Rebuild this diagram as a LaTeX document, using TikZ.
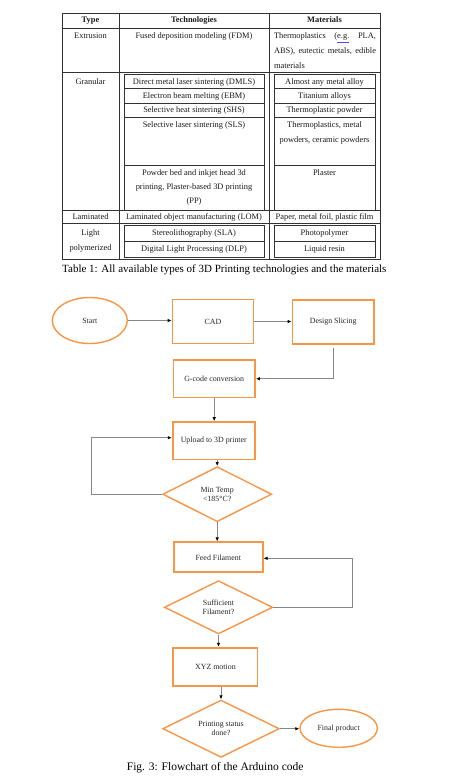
\documentclass[tikz,border=0pt]{standalone}
\usepackage{fontspec}
\setmainfont{Liberation Serif}
\usetikzlibrary{shapes.geometric,arrows.meta,calc}
\definecolor{boxorange}{HTML}{F79646}
\definecolor{conngray}{HTML}{868686}
\begin{document}
\begin{tikzpicture}[x=1pt,y=-1pt,
  tline/.style={draw=black!80,line width=0.65pt},
  ttxt/.style={font=\fontsize{8.4}{15}\selectfont,inner sep=0pt,text=black!90,anchor=base,yshift=-2.5pt},
  thead/.style={ttxt,font=\fontsize{8.4}{15}\selectfont\bfseries},
  captxt/.style={font=\fontsize{11}{13}\selectfont,inner sep=0pt,anchor=base west},
  fbox/.style={draw=boxorange,line width=1.7pt,rectangle,inner sep=0pt,font=\fontsize{7.9}{9}\selectfont,align=center,text=black!85},
  fdia/.style={draw=boxorange,line width=1.4pt,diamond,aspect=2,inner sep=0pt,font=\fontsize{7.9}{9}\selectfont,align=center,text=black!85},
  fell/.style={draw=boxorange,line width=1.4pt,ellipse,inner sep=0pt,font=\fontsize{7.9}{9}\selectfont,text=black!85},
  conn/.style={draw=conngray,line width=1pt,-{Latex[length=4pt,width=3.5pt,color=black]}},
]
\useasboundingbox (0,0) rectangle (456,779);
\fill[white] (0,0) rectangle (456,779);
% ---------- table grid ----------
\foreach \y in {13,28,72,210,223,259.5} \draw[tline] (62,\y) -- (380,\y);
\foreach \x in {62,119,269,380} \draw[tline] (\x,13) -- (\x,259.5);
\draw[tline] (124,74.5) rectangle (264,210);
\draw[tline] (274,74.5) rectangle (375,210);
\foreach \y in {88.5,103,117.5,165} {\draw[tline] (124,\y) -- (264,\y); \draw[tline] (274,\y) -- (375,\y);}
\draw[tline] (124,225) rectangle (264,257.5);
\draw[tline] (274,225) rectangle (375,257.5);
\draw[tline] (124,241) -- (264,241);
\draw[tline] (274,241) -- (375,241);
% ---------- table text ----------
\node[thead] (hType) at (90.5,20.5) {Type};
\node[thead] (hTech) at (194,20.5) {Technologies};
\node[thead] (hMat) at (324.5,20.5) {Materials};
\node[ttxt] (ext) at (90.5,36) {Extrusion};
\node[ttxt] (fdm) at (194,36) {Fused deposition modeling (FDM)};
\node[ttxt] (mfdm1) at (325,36) {\makebox[102pt][s]{Thermoplastics (\textcolor{blue!70}{\underline{\textcolor{black!90}{e.g.}}} PLA,}};
\node[ttxt] (mfdm2) at (325,51) {\makebox[102pt][s]{ABS), eutectic metals, edible}};
\node[ttxt] (mfdm3) at (325,66) {\makebox[102pt][l]{materials}};
\node[ttxt] (gran) at (90.5,81.5) {Granular};
\node[ttxt] (dmls) at (194,81.5) {Direct metal laser sintering (DMLS)};
\node[ttxt] (mdmls) at (324.5,81.5) {Almost any metal alloy};
\node[ttxt] (ebm) at (194,95.8) {Electron beam melting (EBM)};
\node[ttxt] (mebm) at (324.5,95.8) {Titanium alloys};
\node[ttxt] (shs) at (194,110.3) {Selective heat sintering (SHS)};
\node[ttxt] (mshs) at (324.5,110.3) {Thermoplastic powder};
\node[ttxt] (sls) at (194,124.5) {Selective laser sintering (SLS)};
\node[ttxt] (msls1) at (324.5,124.5) {Thermoplastics, metal};
\node[ttxt] (msls2) at (324.5,139.5) {powders, ceramic powders};
\node[ttxt] (pp1) at (194,172.5) {Powder bed and inkjet head 3d};
\node[ttxt] (pp2) at (194,186.5) {printing, Plaster-based 3D printing};
\node[ttxt] (pp3) at (194,200.5) {(PP)};
\node[ttxt] (mpp) at (324.5,172.5) {Plaster};
\node[ttxt] (lam) at (90.5,216.5) {Laminated};
\node[ttxt] (lom) at (194,216.5) {Laminated object manufacturing (LOM)};
\node[ttxt] (mlom) at (324.5,216.5) {Paper, metal foil, plastic film};
\node[ttxt] (light1) at (90.5,233) {Light};
\node[ttxt] (light2) at (90.5,248) {polymerized};
\node[ttxt] (sla) at (194,233) {Stereolithography (SLA)};
\node[ttxt] (dlp) at (194,249.3) {Digital Light Processing (DLP)};
\node[ttxt] (msla) at (324.5,233) {Photopolymer};
\node[ttxt] (mdlp) at (324.5,249.3) {Liquid resin};
\node[captxt] (tcap) at (62,272) {Table 1: All available types of 3D Printing technologies and the materials};
% ---------- flowchart ----------
\node[fell, minimum width=75pt, minimum height=46pt] (start) at (89.8,320.5) {Start};
\node[fbox, minimum width=81pt, minimum height=44pt] (cad) at (213,321.5) {CAD};
\node[fbox, minimum width=81.5pt, minimum height=44pt] (slice) at (333.2,322) {Design Slicing};
\node[fbox, minimum width=81.7pt, minimum height=37.3pt] (gcode) at (214.2,378.7) {G-code conversion};
\node[fbox, minimum width=82.3pt, minimum height=37.3pt] (upload) at (213.8,440.7) {Upload to 3D printer};
\node[fdia, minimum width=109pt, minimum height=55pt] (temp) at (217.2,494.2) {Min Temp\\<185°C?};
\node[fbox, minimum width=88.7pt, minimum height=30pt] (feed) at (218.3,557.3) {Feed Filament};
\node[fdia, minimum width=108.4pt, minimum height=53.3pt] (suff) at (218.5,607.3) {Sufficient\\Filament?};
\node[fbox, minimum width=84.2pt, minimum height=38pt] (xyz) at (215.4,666.7) {XYZ motion};
\node[fdia, minimum width=116.6pt, minimum height=57.3pt] (print) at (221,728.7) {Printing status\\done?};
\node[fell, minimum width=77.4pt, minimum height=38pt] (final) at (338.7,728.3) {Final product};
\draw[conn] (start.east) -- (start.east -| cad.west);
\draw[conn] (cad.east) -- (cad.east -| slice.west);
\draw[conn] ([yshift=-2.7pt]slice.south) |- (gcode.east);
\draw[conn] (gcode.south) -- (gcode.south |- upload.north);
\draw[conn] (temp.north |- upload.south) -- (temp.north);
\draw[conn] (temp.south) -- (temp.south |- feed.north);
\draw[conn] (temp.west) -- ++(-71,0) |- ([yshift=3pt]upload.west);
\draw[conn] (suff.east) -- ++(79,0) |- ([yshift=-1pt]feed.east);
\draw[conn] (suff.south) -- (suff.south |- xyz.north);
\draw[conn] (print.north |- xyz.south) -- (print.north);
\draw[conn] (print.east) -- (print.east -| final.west);
\node[captxt, font=\fontsize{11.5}{13}\selectfont] (fcap) at (126.7,770) {Fig. 3: Flowchart of the Arduino code};
\end{tikzpicture}
\end{document}
